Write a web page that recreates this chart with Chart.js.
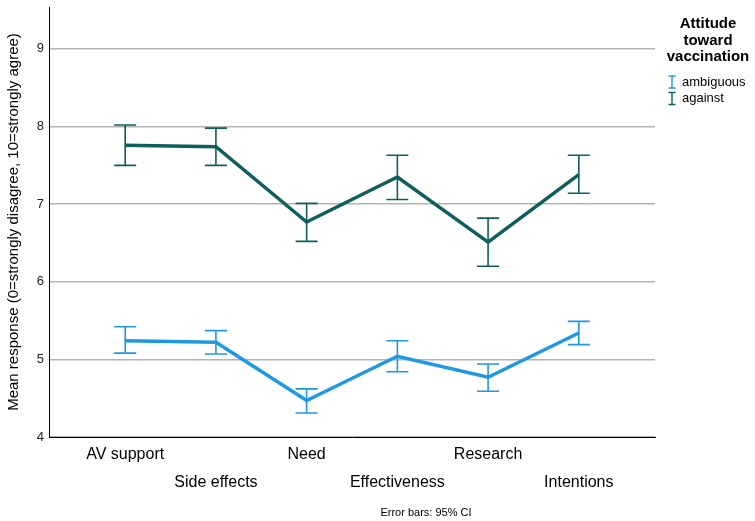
<!DOCTYPE html>
<html><head><meta charset="utf-8">
<script src="https://cdn.jsdelivr.net/npm/chart.js@4.4.0/dist/chart.umd.min.js"></script>
<style>html,body{margin:0;padding:0;background:#fff;} #wrap{position:relative;width:755px;height:521px;}</style>
</head><body><div id="wrap"><canvas id="c" width="755" height="521"></canvas></div>
<script>
const categories = ['AV support','Side effects','Need','Effectiveness','Research','Intentions'];
const yTicks = [4,5,6,7,8,9];
const seriesNames = ['ambiguous','against'];
const ambiguousMean  = [5.24,5.22,4.47,5.04,4.77,5.34];
const ambiguousLower = [5.08,5.07,4.31,4.84,4.59,5.19];
const ambiguousUpper = [5.42,5.37,4.62,5.24,4.94,5.49];
const againstMean  = [7.76,7.74,6.77,7.35,6.51,7.38];
const againstLower = [7.50,7.50,6.52,7.06,6.20,7.14];
const againstUpper = [8.02,7.98,7.01,7.63,6.82,7.63];
const legendTitle = ['Attitude','toward','vaccination'];
const yTitle = 'Mean response (0=strongly disagree, 10=strongly agree)';
const footnote = 'Error bars: 95% CI';

const COLORS = ['#1e98e2','#0e5f5b'];
const FONT = "'Liberation Sans', Arial, Helvetica, sans-serif";
Chart.defaults.font.family = FONT;

const errs = [[ambiguousLower, ambiguousUpper],[againstLower, againstUpper]];

const errorBars = {
  id:'errorBars',
  beforeDatasetsDraw(chart){
    const {ctx, scales:{x,y}} = chart;
    ctx.save();
    chart.data.datasets.forEach((ds,di)=>{
      const [lo,hi] = errs[di];
      ctx.strokeStyle = COLORS[di];
      ctx.lineWidth = 1.6;
      categories.forEach((c,i)=>{
        const px = x.getPixelForValue(i);
        const yl = y.getPixelForValue(lo[i]);
        const yh = y.getPixelForValue(hi[i]);
        ctx.beginPath();
        ctx.moveTo(px,yl); ctx.lineTo(px,yh);
        ctx.moveTo(px-11,yl); ctx.lineTo(px+11,yl);
        ctx.moveTo(px-11,yh); ctx.lineTo(px+11,yh);
        ctx.stroke();
      });
    });
    ctx.restore();
  },
  afterDraw(chart){
    const ctx = chart.ctx;
    ctx.save();
    ctx.fillStyle = '#000';
    ctx.textAlign = 'center';
    ctx.textBaseline = 'middle';
    ctx.font = "bold 15px " + FONT;
    legendTitle.forEach((t,i)=> ctx.fillText(t, 708, 24 + i*16.5));
    ctx.font = "13px " + FONT;
    ctx.textAlign = 'left';
    seriesNames.forEach((n,i)=>{
      const yy = 82 + i*16.5;
      ctx.strokeStyle = COLORS[i];
      ctx.lineWidth = 1.4;
      ctx.beginPath();
      ctx.moveTo(672,yy-6); ctx.lineTo(672,yy+6);
      ctx.moveTo(668.5,yy-6); ctx.lineTo(675.5,yy-6);
      ctx.moveTo(668.5,yy+6); ctx.lineTo(675.5,yy+6);
      ctx.stroke();
      ctx.fillStyle = '#000';
      ctx.fillText(n, 682, yy);
    });
    ctx.textAlign = 'center';
    ctx.font = "11px " + FONT;
    ctx.fillText(footnote, 426, 513);
    ctx.restore();
  }
};

new Chart(document.getElementById('c'), {
  type:'line',
  data:{
    datasets:[
      {label:seriesNames[0], data:ambiguousMean.map((v,i)=>({x:i,y:v})), borderColor:COLORS[0], borderWidth:3.5, pointRadius:0, tension:0, fill:false},
      {label:seriesNames[1], data:againstMean.map((v,i)=>({x:i,y:v})), borderColor:COLORS[1], borderWidth:3.5, pointRadius:0, tension:0, fill:false}
    ]
  },
  options:{
    responsive:false, animation:false, devicePixelRatio:1,
    layout:{padding:{left:0,right:100,top:7,bottom:0}},
    plugins:{legend:{display:false}, tooltip:{enabled:false}},
    scales:{
      x:{
        type:'linear', min:-0.84, max:5.84,
        grid:{display:false, drawTicks:false},
        border:{display:true, color:'#000', width:1},
        afterBuildTicks(s){ s.ticks = categories.map((c,i)=>({value:i})); },
        afterFit(s){ s.height = 84; s.paddingLeft = 0; s.paddingRight = 0; },
        ticks:{
          autoSkip:false, maxRotation:0, minRotation:0, padding:4, color:'#000',
          font:{size:16, lineHeight:1.75},
          callback(v,i){ const l = categories[v]; return i%2===0 ? [l,''] : ['',l]; }
        }
      },
      y:{
        min:4, max:9.54,
        grid:{color:'#b4b4b4', lineWidth:1.5, drawTicks:false},
        border:{display:true, color:'#000', width:1},
        afterBuildTicks(s){ s.ticks = yTicks.map(v=>({value:v})); },
        afterFit(s){ s.width = 49; s.paddingTop = 0; s.paddingBottom = 0; },
        ticks:{padding:5, color:'#222', font:{size:13}},
        title:{display:true, text:yTitle, color:'#000', font:{size:15}, padding:{top:5,bottom:0}}
      }
    }
  },
  plugins:[errorBars]
});
</script></body></html>
